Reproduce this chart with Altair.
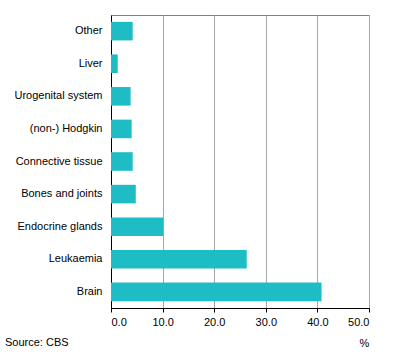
import altair as alt
import pandas as pd

categories = ["Other", "Liver", "Urogenital system", "(non-) Hodgkin",
              "Connective tissue", "Bones and joints", "Endocrine glands",
              "Leukaemia", "Brain"]
values = [4.2, 1.3, 3.8, 4.0, 4.2, 4.8, 10.1, 26.3, 40.8]
x_ticks = [0, 10, 20, 30, 40, 50]

df = pd.DataFrame({"cat": categories, "val": values})
FONT = "Liberation Sans"

bars = alt.Chart(df).mark_bar(color="#1EBCC5").encode(
    x=alt.X("val:Q", scale=alt.Scale(domain=[0, 50], nice=False),
            axis=alt.Axis(values=x_ticks, format=".1f", title="%",
                          titleAnchor="end", titleAlign="center",
                          titleBaseline="middle",
                          titleFontWeight="normal", titleFontSize=11,
                          titleFont=FONT, titleX=253, titleY=35,
                          grid=True, gridColor="#A6A6A6", gridOpacity=1,
                          domainColor="#000000", tickColor="#000000",
                          tickSize=4, labelFont=FONT, labelFontSize=11,
                          labelColor="#000000", labelPadding=4)),
    y=alt.Y("cat:N", sort=categories,
            scale=alt.Scale(paddingInner=0.43, paddingOuter=0.21),
            axis=alt.Axis(title=None, ticks=False, domainColor="#000000",
                          labelFont=FONT, labelFontSize=11, labelColor="#000000",
                          labelPadding=9, grid=False)),
)

source = alt.Chart(pd.DataFrame({"t": ["Source: CBS"]})).mark_text(
    align="left", baseline="middle", font=FONT, fontSize=11, color="#000000"
).encode(text="t:N", x=alt.value(-106), y=alt.value(328))

chart = alt.layer(bars, source).properties(
    width=258, height=293,
    autosize=alt.AutoSizeParams(type="none"),
    padding={"left": 111, "top": 15, "right": 27, "bottom": 48},
).configure_view(stroke="#808080", strokeWidth=1)

chart.save("out.html", embed_options={"renderer": "svg", "actions": False})
